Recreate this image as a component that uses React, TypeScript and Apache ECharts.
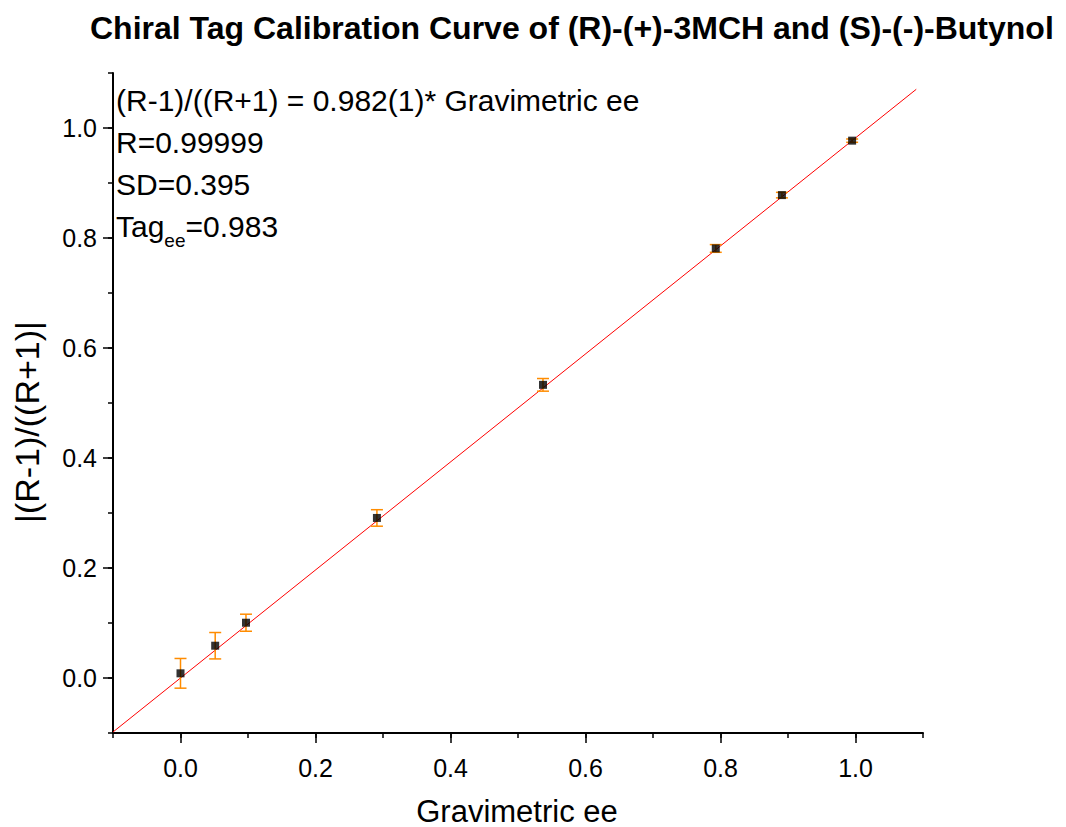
import React, { useEffect, useRef } from "react";
import * as echarts from "echarts";

const titleText = "Chiral Tag Calibration Curve of (R)-(+)-3MCH and (S)-(-)-Butynol";
const xTitle = "Gravimetric ee";
const yTitle = "|(R-1)/((R+1)|";

const gravimetricEe = [0.0, 0.0514, 0.097, 0.291, 0.537, 0.793, 0.891, 0.995];
const tagRatio = [0.0085, 0.0587, 0.1005, 0.291, 0.533, 0.781, 0.878, 0.977];
const tagError = [0.027, 0.024, 0.0155, 0.015, 0.0115, 0.007, 0.005, 0.003];

const fitSlope = 0.982;
const fitRange = [-0.1, 1.09];

const annotationLines = [
  "(R-1)/((R+1) = 0.982(1)* Gravimetric ee",
  "R=0.99999",
  "SD=0.395",
];
const tagLabel = "Tag";
const tagSub = "ee";
const tagValue = "=0.983";

const FONT = "'Liberation Sans', Arial, sans-serif";

export default function App() {
  const ref = useRef<HTMLDivElement>(null);

  useEffect(() => {
    if (!ref.current) return;
    const chart = echarts.init(ref.current, undefined, { renderer: "svg" });

    const points = gravimetricEe.map((x, i) => [x, tagRatio[i]]);
    const bars = gravimetricEe.map((x, i) => [x, tagRatio[i] - tagError[i], tagRatio[i] + tagError[i]]);
    const fit = fitRange.map((x) => [x, fitSlope * x]);

    const option: any = {
      animation: false,
      backgroundColor: "#ffffff",
      textStyle: { fontFamily: FONT },
      title: {
        text: titleText,
        left: 85,
        top: 7,
        textStyle: { fontFamily: FONT, fontSize: 32, fontWeight: "bold", color: "#000" },
      },
      grid: [
        { left: 113, right: 143, top: 73, bottom: 94 },
        { left: 180.5, right: 210.5, top: 128, bottom: 149 },
      ],
      xAxis: [
        {
          type: "value",
          gridIndex: 0,
          min: -0.1,
          max: 1.1,
          interval: 0.1,
          axisLine: { show: true, onZero: false, lineStyle: { color: "#000", width: 2 } },
          axisTick: { show: true, inside: false, length: 5, lineStyle: { color: "#000", width: 1.5 } },
          axisLabel: { show: false },
          splitLine: { show: false },
        },
        {
          type: "value",
          gridIndex: 1,
          min: 0,
          max: 1,
          interval: 0.2,
          offset: 55,
          axisLine: { show: false, onZero: false },
          axisTick: { show: true, inside: false, length: 10, lineStyle: { color: "#000", width: 1.5 } },
          axisLabel: {
            show: true,
            margin: 22,
            fontSize: 25,
            fontFamily: FONT,
            color: "#000",
            formatter: (v: number) => v.toFixed(1),
          },
          splitLine: { show: false },
        },
      ],
      yAxis: [
        {
          type: "value",
          gridIndex: 0,
          min: -0.1,
          max: 1.1,
          interval: 0.1,
          axisLine: { show: true, onZero: false, lineStyle: { color: "#000", width: 2 } },
          axisTick: { show: true, inside: false, length: 5, lineStyle: { color: "#000", width: 1.5 } },
          axisLabel: { show: false },
          splitLine: { show: false },
        },
        {
          type: "value",
          gridIndex: 1,
          min: 0,
          max: 1,
          interval: 0.2,
          offset: 67.5,
          axisLine: { show: false, onZero: false },
          axisTick: { show: true, inside: false, length: 10, lineStyle: { color: "#000", width: 1.5 } },
          axisLabel: {
            show: true,
            margin: 16,
            fontSize: 25,
            fontFamily: FONT,
            color: "#000",
            formatter: (v: number) => v.toFixed(1),
          },
          splitLine: { show: false },
        },
      ],
      graphic: [
        ...annotationLines.map((t, i) => ({
          type: "text",
          left: 116,
          top: 85 + i * 42,
          style: { text: t, fontSize: 30, fontFamily: FONT, fill: "#000" },
        })),
        {
          type: "text",
          left: 116,
          top: 85 + 3 * 42,
          style: {
            text: `{a|${tagLabel}}{s|${tagSub}}{a|${tagValue}}`,
            rich: {
              a: { fontSize: 30, fontFamily: FONT, color: "#000" },
              s: { fontSize: 19, fontFamily: FONT, color: "#000", padding: [28, 0, 0, 0] },
            },
          },
        },
        {
          type: "text",
          x: 517,
          y: 811,
          style: { text: xTitle, fontSize: 31, fontFamily: FONT, fill: "#000", align: "center", verticalAlign: "middle" },
        },
        {
          type: "text",
          x: 27,
          y: 422,
          rotation: Math.PI / 2,
          style: { text: yTitle, fontSize: 34, fontFamily: FONT, fill: "#000", align: "center", verticalAlign: "middle" },
        },
      ],
      series: [
        {
          type: "line",
          xAxisIndex: 0,
          yAxisIndex: 0,
          data: fit,
          symbol: "none",
          lineStyle: { color: "#ff0000", width: 1 },
          z: 2,
        },
        {
          type: "custom",
          xAxisIndex: 0,
          yAxisIndex: 0,
          data: bars,
          z: 3,
          renderItem: (params: any, api: any) => {
            const x = api.value(0);
            const lo = api.coord([x, api.value(1)]);
            const hi = api.coord([x, api.value(2)]);
            const hw = 6;
            const style = { stroke: "#ff8c00", lineWidth: 1.5 };
            return {
              type: "group",
              children: [
                { type: "line", shape: { x1: lo[0], y1: lo[1], x2: hi[0], y2: hi[1] }, style },
                { type: "line", shape: { x1: lo[0] - hw, y1: lo[1], x2: lo[0] + hw, y2: lo[1] }, style },
                { type: "line", shape: { x1: hi[0] - hw, y1: hi[1], x2: hi[0] + hw, y2: hi[1] }, style },
              ],
            };
          },
        },
        {
          type: "scatter",
          xAxisIndex: 0,
          yAxisIndex: 0,
          data: points,
          symbol: "rect",
          symbolSize: 8,
          itemStyle: { color: "#000" },
          z: 4,
        },
      ],
    };

    chart.setOption(option);
    return () => chart.dispose();
  }, []);

  return <div ref={ref} style={{ position: "absolute", left: 0, top: 0, width: 1066, height: 827 }} />;
}
